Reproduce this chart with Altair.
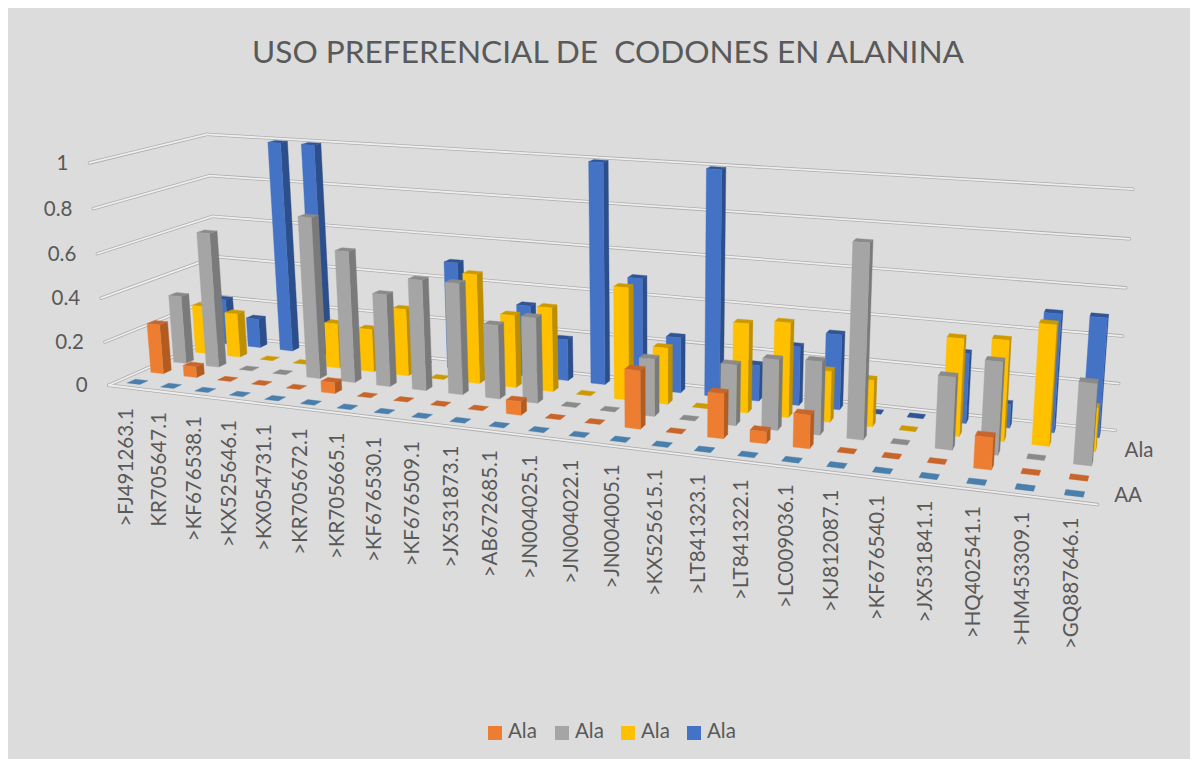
import altair as alt
import numpy as np
import pandas as pd

categories = [">FJ491263.1", "KR705647.1", ">KF676538.1", ">KX525646.1", ">KX054731.1", ">KR705672.1",
              ">KR705665.1", ">KF676530.1", ">KF676509.1", ">JX531873.1", ">AB672685.1", ">JN004025.1",
              ">JN004022.1", ">JN004005.1", ">KX525615.1", ">LT841323.1", ">LT841322.1", ">LC009036.1",
              ">KJ812087.1", ">KF676540.1", ">JX531841.1", ">HQ402541.1", ">HM453309.1", ">GQ887646.1"]
aa_row = [0] * 24
orange = [.23, .05, 0, 0, 0, .05, 0, 0, 0, 0, .06, 0, 0, .25, 0, .19, .05, .14, 0, 0, 0, .13, 0, 0]
gray = [.32, .63, 0, 0, .74, .60, .42, .50, .50, .33, .38, 0, 0, .25, 0, .26, .30, .31, .81, 0, .30, .38, 0, .33]
yellow = [.23, .21, 0, 0, .21, .20, .31, 0, .50, .33, .38, 0, .50, .25, 0, .39, .41, .22, .20, 0, .41, .42, .50, .18]
blue = [.22, .14, 1, 1, 0, 0, 0, .50, 0, .33, .19, 1, .50, .25, 1, .16, .26, .33, 0, 0, .30, .10, .50, .50]
series = [aa_row, orange, gray, yellow, blue]
wall_ticks = [0, 0.2, 0.4, 0.6, 0.8, 1]
wall_labels = ["0", "0.2", "0.4", "0.6", "0.8", "1"]
legend_names = ["Ala", "Ala", "Ala", "Ala"]
legend_colors = ["#ED7D31", "#A5A5A5", "#FFC000", "#4472C4"]
title_text = "USO PREFERENCIAL DE\u00a0 CODONES EN ALANINA"

# face colours per row: front, side, top
faces = [("#4A7EAB", "#3E6C94", "#4A7EAB"),
         ("#ED7D31", "#B25C22", "#C8652A"),
         ("#A5A5A5", "#7A7A7A", "#8A8A8A"),
         ("#FFC000", "#BC8E00", "#CC9A00"),
         ("#4472C4", "#2C4E8A", "#2F5597")]

W, H = 1182, 751
FONT = "Lato"
TXT = "#595959"

# Camera calibration of the 3-D box: (category position, row position, height) -> page pixel
front_row_x = [137, 172, 206, 240, 275, 311, 348, 385, 423, 461, 500, 539, 579, 620, 662, 705, 748, 792, 837, 883, 929, 977, 1025, 1073]
front_row_y = [382, 386, 390, 394, 398, 403, 407, 411, 416, 420, 425, 430, 434, 439, 444, 449, 454, 459, 465, 471, 476, 482, 487, 493]
calib = [((i + .5, .5, 0), (x, y)) for i, (x, y) in enumerate(zip(front_row_x, front_row_y))]
calib += [
    ((0, 0, 0), (108, 385)), ((0, 0, .2), (105, 342)), ((0, 0, .4), (101, 298)),
    ((0, 0, .6), (97, 253)), ((0, 0, .8), (93, 209)), ((0, 0, 1), (89, 163)),
    ((24, 5, 0), (1113, 430)), ((24, 5, .2), (1118, 383)), ((24, 5, .4), (1122, 336)),
    ((24, 5, .6), (1126, 288)), ((24, 5, .8), (1129, 239)), ((24, 5, 1), (1133, 189)),
    ((0, 5, 1), (207, 134)), ((0, 5, .8), (210, 175)), ((0, 5, .6), (213, 216)), ((0, 5, 0), (225, 335)),
    ((24, 0, 0), (1098, 505)),
    ((.5, 4.5, 0), (223, 343)), ((2.5, 4.5, 0), (287, 350)), ((19.5, 4.5, 0), (915, 416)),
    ((23.5, 4.5, 0), (1097, 437)), ((11.5, 4.5, 0), (599, 381)), ((14.5, 4.5, 0), (715, 392)),
    ((2.5, 3.5, 0), (269, 358)), ((19.5, 3.5, 0), (907, 428)), ((19.5, 2.5, 0), (900, 442)),
    ((19.5, 1.5, 0), (892, 456)), ((2.5, 1.5, 0), (228, 379)), ((2.5, 2.5, 0), (250, 368)),
    ((2.5, 4.5, 1), (277, 143)), ((3.5, 4.5, 1), (312, 144)), ((11.5, 4.5, 1), (599, 161)), ((14.5, 4.5, 1), (716, 168)),
]
A, b = [], []
for (u, v, h), (x, y) in calib:
    A.append([u, v, h, 1, 0, 0, 0, 0, -u * x, -v * x, -h * x]); b.append(x)
    A.append([0, 0, 0, 0, u, v, h, 1, -u * y, -v * y, -h * y]); b.append(y)
P = np.append(np.linalg.lstsq(np.array(A, float), np.array(b, float), rcond=None)[0], 1).reshape(3, 4)


def proj(u, v, h):
    p = P @ np.array([u, v, h, 1.0])
    # page coordinates -> chart coordinates (8px page margin)
    return p[0] / p[2] - 8, p[1] / p[2] - 8


polys, pid = [], 0
def add(points, color):
    global pid
    for k, (x, y) in enumerate(points):
        polys.append(dict(pid=f"{pid:05d}", k=k, x=x, y=y, c=color))
    pid += 1

BW, BD = 0.19, 0.17
for r in range(4, -1, -1):
    for i in range(24):
        val = series[r][i]
        u0, u1, v0, v1 = i + .5 - BW, i + .5 + BW, r + .5 - BD, r + .5 + BD
        front, side, top = faces[r]
        if val > 0:
            add([proj(u1, v0, 0), proj(u1, v1, 0), proj(u1, v1, val), proj(u1, v0, val)], side)
        add([proj(u0, v0, val), proj(u1, v0, val), proj(u1, v1, val), proj(u0, v1, val)], top)
        if val > 0:
            add([proj(u0, v0, 0), proj(u1, v0, 0), proj(u1, v0, val), proj(u0, v0, val)], front)
bars = pd.DataFrame(polys)

segs, sid = [], 0
for t in wall_ticks:
    for a, c in [((0, 0), (0, 5)), ((0, 5), (24, 5))]:
        p, q = proj(a[0], a[1], t), proj(c[0], c[1], t)
        segs += [dict(s=sid, k=0, x=p[0], y=p[1]), dict(s=sid, k=1, x=q[0], y=q[1])]
        sid += 1
p, q = proj(0, 0, 0), proj(24, 0, 0)
segs += [dict(s=sid, k=0, x=p[0], y=p[1]), dict(s=sid, k=1, x=q[0], y=q[1])]
grid = pd.DataFrame(segs)

xs = alt.Scale(domain=[0, W], range=[0, W], nice=False, zero=False)
ys = alt.Scale(domain=[0, H], range=[0, H], nice=False, zero=False)
X = alt.X("x:Q", scale=xs, axis=None)
Y = alt.Y("y:Q", scale=ys, axis=None)

g1 = alt.Chart(grid).mark_line(color="#AEAEAE", strokeWidth=3.4, strokeCap="round").encode(X, Y, detail="s:N", order="k:Q")
g2 = alt.Chart(grid).mark_line(color="#EEEEEE", strokeWidth=1.8, strokeCap="round").encode(X, Y, detail="s:N", order="k:Q")

bar_layer = alt.Chart(bars).mark_line(strokeWidth=0.4, interpolate="linear-closed").encode(
    X, Y, order="k:Q", detail="pid:N",
    fill=alt.Fill("c:N", scale=None),
    stroke=alt.Stroke("c:N", scale=None),
)

cat_df = pd.DataFrame([
    dict(t=c, x=proj(i + .5, 0.05, 0)[0], y=proj(i + .5, 0.05, 0)[1] + 21.5 - 4.5 * i / 23) for i, c in enumerate(categories)
])
cat_text = alt.Chart(cat_df).mark_text(font=FONT, fontSize=20.5, color=TXT, angle=270, align="right", baseline="middle").encode(X, Y, text="t:N")

val_df = pd.DataFrame([
    dict(t=l, x=proj(0, 0, v)[0] - 21, y=proj(0, 0, v)[1] + 1) for v, l in zip(wall_ticks, wall_labels)
])
val_text = alt.Chart(val_df).mark_text(font=FONT, fontSize=20.5, color=TXT, align="right", baseline="middle").encode(X, Y, text="t:N")

row_df = pd.DataFrame([
    dict(t="AA", x=1128 - 8, y=496 - 8),
    dict(t="Ala", x=1139 - 8, y=451 - 8),
])
row_text = alt.Chart(row_df).mark_text(font=FONT, fontSize=20.5, color=TXT, align="center", baseline="middle").encode(X, Y, text="t:N")

title_df = pd.DataFrame([dict(t=title_text, x=608 - 8, y=54 - 8)])
title = alt.Chart(title_df).mark_text(font=FONT, fontSize=31.6, color=TXT, align="center", baseline="middle").encode(X, Y, text="t:N")

leg_x = [488, 555, 621, 687]
leg_df = pd.DataFrame([dict(n=f"{i}{n}", t=n, c=c, x=x - 8, x2=x + 14 - 8, y=726 - 8, y2=740 - 8, tx=x + 20 - 8, ty=732 - 8)
                       for i, (n, c, x) in enumerate(zip(legend_names, legend_colors, leg_x))])
leg_sw = alt.Chart(leg_df).mark_rect().encode(
    x=alt.X("x:Q", scale=xs, axis=None), x2="x2:Q",
    y=alt.Y("y:Q", scale=ys, axis=None), y2="y2:Q",
    fill=alt.Fill("c:N", scale=None),
)
leg_tx = alt.Chart(leg_df).mark_text(font=FONT, fontSize=20.5, color=TXT, align="left", baseline="middle").encode(
    x=alt.X("tx:Q", scale=xs, axis=None), y=alt.Y("ty:Q", scale=ys, axis=None), text="t:N")

chart = alt.layer(g1, g2, bar_layer, cat_text, val_text, row_text, title, leg_sw, leg_tx).properties(
    width=W, height=H, background="#DCDCDC", padding=0,
    autosize=alt.AutoSizeParams(type="none"),
).configure_view(stroke=None)

chart.save("out.html", embed_options={"renderer": "svg", "actions": False})
